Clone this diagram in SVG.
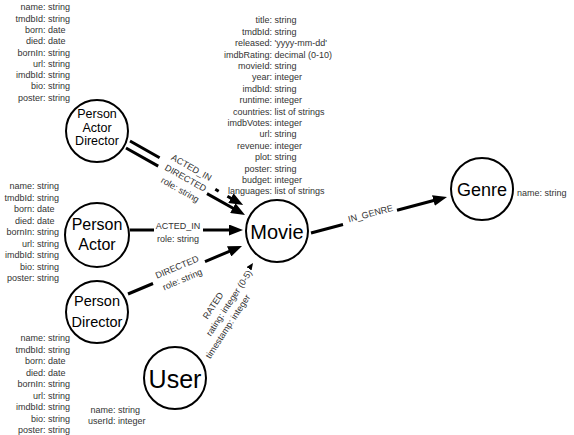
<svg xmlns="http://www.w3.org/2000/svg" width="574" height="435" viewBox="0 0 574 435">
<defs>
<style>
.n{fill:#fff;stroke:#000;stroke-width:2}
.nl{font-family:"Liberation Sans",Arial,sans-serif;fill:#000;text-anchor:middle}
.p{font-family:"Liberation Sans",Arial,sans-serif;font-size:9px;fill:#333}
.k{text-anchor:end}
.c{stroke:#000;stroke-width:3;fill:none}
.rl{font-family:"Liberation Sans",Arial,sans-serif;font-size:9px;fill:#333;text-anchor:middle}
</style>
<marker id="ah" viewBox="0 0 14 11" refX="8" refY="5.5" markerWidth="14" markerHeight="11" markerUnits="userSpaceOnUse" orient="auto"><path d="M0,0 L14,5.5 L0,11 Z" fill="#000"/></marker>
<marker id="ahs" viewBox="0 0 7 6" refX="7" refY="3" markerWidth="7" markerHeight="6" markerUnits="userSpaceOnUse" orient="auto"><path d="M0,0 L7,3 L0,6 Z" fill="#000"/></marker>
</defs>
<rect width="574" height="435" fill="#fff"/>

<g id="connectors">
  <g id="rel-pad-acted">
    <path class="c" d="M130,141 L159.6,157.8 M215.3,189.3 L218.7,191.3 M227.4,196.2 L237.9,202.1" marker-end="url(#ah)"/>
  </g>
  <g id="rel-pad-directed">
    <path class="c" d="M126,148 L158.2,166.1 M207,193.6 L239.8,212" marker-end="url(#ah)"/>
    <g transform="translate(191.5,167.5) rotate(29.4)">
      <text class="rl" x="0" y="3.2">ACTED_IN</text>
      <text class="rl" x="0" y="15.2">DIRECTED</text>
      <text class="p" y="28"><tspan class="k" x="-2.5">role:</tspan><tspan x="-2.5"> string</tspan></text>
    </g>
  </g>
  <g id="rel-pa-acted">
    <path class="c" d="M130,230 L154,230 M203,230 L237,230" marker-end="url(#ah)"/>
    <text class="rl" x="178" y="229.2">ACTED_IN</text>
    <text class="p" y="241.5"><tspan class="k" x="174.5">role:</tspan><tspan x="174.5"> string</tspan></text>
  </g>
  <g id="rel-pd-directed">
    <path class="c" d="M128,294 L153,283.5 M205,261.6 L236.5,248.3" marker-end="url(#ah)"/>
    <g transform="translate(177,267) rotate(-22.8)">
      <text class="rl" x="0" y="3.2">DIRECTED</text>
      <text class="p" y="16.6"><tspan class="k" x="-3.4">role:</tspan><tspan x="-3.4"> string</tspan></text>
    </g>
  </g>
  <g id="rel-movie-genre">
    <path class="c" d="M311,233 L343,224.5 M397,210.2 L441.2,198.5" marker-end="url(#ah)"/>
    <text class="rl" transform="translate(370.5,213.5) rotate(-14.8)" x="0" y="3.2">IN_GENRE</text>
  </g>
  <g id="rel-user-rated">
    <path d="M195.7,347.3 L253,263" stroke="none" fill="none" marker-end="url(#ahs)"/>
    <g transform="translate(213,305.5) rotate(-57)">
      <text class="rl" x="0" y="3.2">RATED</text>
      <text class="p" y="15.2"><tspan class="k" x="-2.5">rating:</tspan><tspan x="-2.5"> integer (0-5)</tspan></text>
      <text class="p" y="26.9"><tspan class="k" x="-2.5">timestamp:</tspan><tspan x="-2.5"> integer</tspan></text>
    </g>
  </g>
</g>

<g id="node-person-actor-director">
  <circle class="n" cx="97" cy="131" r="31"/>
  <text class="nl" font-size="12.5" x="97" y="118">Person</text>
  <text class="nl" font-size="12.5" x="97" y="131.5">Actor</text>
  <text class="nl" font-size="12.5" x="97" y="145">Director</text>
  <g class="p">
    <text y="10.3"><tspan class="k" x="45.5">name:</tspan><tspan x="45.5"> string</tspan></text>
    <text y="21.6"><tspan class="k" x="45.5">tmdbId:</tspan><tspan x="45.5"> string</tspan></text>
    <text y="32.9"><tspan class="k" x="45.5">born:</tspan><tspan x="45.5"> date</tspan></text>
    <text y="44.2"><tspan class="k" x="45.5">died:</tspan><tspan x="45.5"> date</tspan></text>
    <text y="55.5"><tspan class="k" x="45.5">bornIn:</tspan><tspan x="45.5"> string</tspan></text>
    <text y="66.8"><tspan class="k" x="45.5">url:</tspan><tspan x="45.5"> string</tspan></text>
    <text y="78.1"><tspan class="k" x="45.5">imdbId:</tspan><tspan x="45.5"> string</tspan></text>
    <text y="89.4"><tspan class="k" x="45.5">bio:</tspan><tspan x="45.5"> string</tspan></text>
    <text y="100.7"><tspan class="k" x="45.5">poster:</tspan><tspan x="45.5"> string</tspan></text>
  </g>
</g>

<g id="node-person-actor">
  <circle class="n" cx="97" cy="235" r="32"/>
  <text class="nl" font-size="16" x="97" y="230">Person</text>
  <text class="nl" font-size="16" x="97" y="250">Actor</text>
  <g class="p">
    <text y="189.3"><tspan class="k" x="34.5">name:</tspan><tspan x="34.5"> string</tspan></text>
    <text y="200.8"><tspan class="k" x="34.5">tmdbId:</tspan><tspan x="34.5"> string</tspan></text>
    <text y="212.3"><tspan class="k" x="34.5">born:</tspan><tspan x="34.5"> date</tspan></text>
    <text y="223.8"><tspan class="k" x="34.5">died:</tspan><tspan x="34.5"> date</tspan></text>
    <text y="235.3"><tspan class="k" x="34.5">bornIn:</tspan><tspan x="34.5"> string</tspan></text>
    <text y="246.8"><tspan class="k" x="34.5">url:</tspan><tspan x="34.5"> string</tspan></text>
    <text y="258.3"><tspan class="k" x="34.5">imdbId:</tspan><tspan x="34.5"> string</tspan></text>
    <text y="269.8"><tspan class="k" x="34.5">bio:</tspan><tspan x="34.5"> string</tspan></text>
    <text y="281.3"><tspan class="k" x="34.5">poster:</tspan><tspan x="34.5"> string</tspan></text>
  </g>
</g>

<g id="node-person-director">
  <circle class="n" cx="97" cy="312" r="31"/>
  <text class="nl" font-size="14.5" x="97" y="305.5">Person</text>
  <text class="nl" font-size="14.5" x="97" y="326.5">Director</text>
  <g class="p">
    <text y="341.3"><tspan class="k" x="45.5">name:</tspan><tspan x="45.5"> string</tspan></text>
    <text y="352.8"><tspan class="k" x="45.5">tmdbId:</tspan><tspan x="45.5"> string</tspan></text>
    <text y="364.3"><tspan class="k" x="45.5">born:</tspan><tspan x="45.5"> date</tspan></text>
    <text y="375.8"><tspan class="k" x="45.5">died:</tspan><tspan x="45.5"> date</tspan></text>
    <text y="387.3"><tspan class="k" x="45.5">bornIn:</tspan><tspan x="45.5"> string</tspan></text>
    <text y="398.8"><tspan class="k" x="45.5">url:</tspan><tspan x="45.5"> string</tspan></text>
    <text y="410.3"><tspan class="k" x="45.5">imdbId:</tspan><tspan x="45.5"> string</tspan></text>
    <text y="421.8"><tspan class="k" x="45.5">bio:</tspan><tspan x="45.5"> string</tspan></text>
    <text y="433.3"><tspan class="k" x="45.5">poster:</tspan><tspan x="45.5"> string</tspan></text>
  </g>
</g>

<g id="node-movie">
  <circle class="n" cx="277" cy="231" r="31"/>
  <text class="nl" font-size="20" x="277" y="238.5">Movie</text>
  <g class="p">
    <text y="23.3"><tspan class="k" x="272">title:</tspan><tspan x="272"> string</tspan></text>
    <text y="34.7"><tspan class="k" x="272">tmdbId:</tspan><tspan x="272"> string</tspan></text>
    <text y="46.1"><tspan class="k" x="272">released:</tspan><tspan x="272"> 'yyyy-mm-dd'</tspan></text>
    <text y="57.5"><tspan class="k" x="272">imdbRating:</tspan><tspan x="272"> decimal (0-10)</tspan></text>
    <text y="68.9"><tspan class="k" x="272">movieId:</tspan><tspan x="272"> string</tspan></text>
    <text y="80.3"><tspan class="k" x="272">year:</tspan><tspan x="272"> integer</tspan></text>
    <text y="91.7"><tspan class="k" x="272">imdbId:</tspan><tspan x="272"> string</tspan></text>
    <text y="103.1"><tspan class="k" x="272">runtime:</tspan><tspan x="272"> integer</tspan></text>
    <text y="114.5"><tspan class="k" x="272">countries:</tspan><tspan x="272"> list of strings</tspan></text>
    <text y="125.9"><tspan class="k" x="272">imdbVotes:</tspan><tspan x="272"> integer</tspan></text>
    <text y="137.3"><tspan class="k" x="272">url:</tspan><tspan x="272"> string</tspan></text>
    <text y="148.7"><tspan class="k" x="272">revenue:</tspan><tspan x="272"> integer</tspan></text>
    <text y="160.1"><tspan class="k" x="272">plot:</tspan><tspan x="272"> string</tspan></text>
    <text y="171.5"><tspan class="k" x="272">poster:</tspan><tspan x="272"> string</tspan></text>
    <text y="182.9"><tspan class="k" x="272">budget:</tspan><tspan x="272"> integer</tspan></text>
    <text y="194.3"><tspan class="k" x="272">languages:</tspan><tspan x="272"> list of strings</tspan></text>
  </g>
</g>

<g id="node-genre">
  <circle class="n" cx="482" cy="189" r="31"/>
  <text class="nl" font-size="18" x="482" y="195.5">Genre</text>
  <text class="p" y="196"><tspan class="k" x="542">name:</tspan><tspan x="542"> string</tspan></text>
</g>

<g id="node-user">
  <circle class="n" cx="175" cy="378" r="31"/>
  <text class="nl" font-size="25" x="175" y="387.5">User</text>
  <g class="p">
    <text y="412.5"><tspan class="k" x="115.5">name:</tspan><tspan x="115.5"> string</tspan></text>
    <text y="424"><tspan class="k" x="115.5">userId:</tspan><tspan x="115.5"> integer</tspan></text>
  </g>
</g>
</svg>
